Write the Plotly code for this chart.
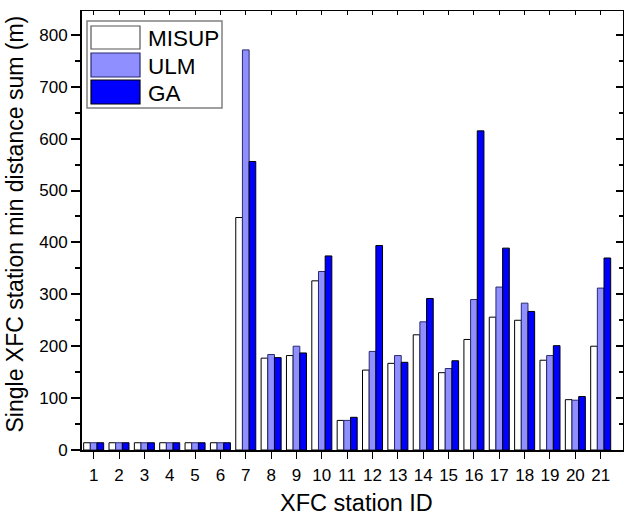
import plotly.graph_objects as go

stations = list(range(1, 22))
tick_labels = [str(s) for s in stations]
series_names = ["MISUP", "ULM", "GA"]
misup = [14, 14, 14, 14, 14, 14, 448, 177, 182, 326, 57, 154, 167, 222, 149, 213, 256, 250, 173, 97, 200]
ulm = [14, 14, 14, 14, 14, 14, 771, 184, 200, 344, 57, 190, 182, 247, 157, 290, 314, 283, 182, 96, 312]
ga = [14, 14, 14, 14, 14, 14, 556, 178, 187, 374, 63, 394, 169, 292, 172, 615, 389, 267, 201, 103, 370]
y_ticks = list(range(0, 801, 100))

FONT = "Liberation Sans, Arial, sans-serif"
fills = ["#FFFFFF", "#8F8FFF", "#0000FF"]
edges = ["#000000", "#2a2a70", "#000000"]

# plot area in pixels
L, R, T, B = 82, 623, 11, 450
W, H = 624, 516
PW, PH = R - L, B - T


def px(x):
    return (x - L) / PW


def py(y):
    return (B - y) / PH


fig = go.Figure()
for name, vals, fc, ec in zip(series_names, [misup, ulm, ga], fills, edges):
    fig.add_trace(go.Bar(x=stations, y=vals, name=name, marker=dict(color=fc, line=dict(color=ec, width=1)),
                         showlegend=False))

# invisible trace to register mirrored axes
fig.add_trace(go.Scatter(x=[1], y=[0], xaxis="x2", yaxis="y2", mode="markers",
                         marker=dict(opacity=0), showlegend=False, hoverinfo="skip"))

xr = [0.54, 21.88]
yr = [0, 846]

fig.update_layout(
    width=W, height=H,
    margin=dict(l=L, r=W - R, t=T, b=H - B),
    paper_bgcolor="white", plot_bgcolor="white",
    barmode="group", bargap=0.21, bargroupgap=0,
    font=dict(family=FONT, color="black", size=17),
    xaxis=dict(range=xr, tickvals=stations, ticktext=tick_labels, ticks="outside", ticklen=7, tickwidth=1.2,
               tickcolor="black", showline=True, linewidth=2, linecolor="black", showgrid=False, zeroline=False,
               tickfont=dict(size=17, family=FONT, color="black"), ticklabelstandoff=2),
    xaxis2=dict(range=xr, overlaying="x", side="top", anchor="y", tickvals=stations, ticks="inside", ticklen=4,
                tickwidth=1, tickcolor="black", showticklabels=False, showline=True, linewidth=1.2,
                linecolor="black", showgrid=False, zeroline=False),
    yaxis=dict(range=yr, tickvals=y_ticks, ticks="outside", ticklen=9, tickwidth=1.6, tickcolor="black",
               showline=True, linewidth=2, linecolor="black", showgrid=False, zeroline=False,
               tickfont=dict(size=17, family=FONT, color="black"),
               minor=dict(ticks="outside", ticklen=5, tickwidth=1.6, tickcolor="black", dtick=50, tick0=0,
                          showgrid=False)),
    yaxis2=dict(range=yr, overlaying="y", side="right", anchor="x", tickvals=y_ticks, ticks="inside", ticklen=7,
                tickwidth=1.6, tickcolor="black", showticklabels=False, showline=True, linewidth=1.2,
                linecolor="black", showgrid=False, zeroline=False,
                minor=dict(ticks="inside", ticklen=4, tickwidth=1.6, tickcolor="black", dtick=50, tick0=0,
                           showgrid=False)),
)

# axis titles
fig.add_annotation(text="XFC station ID", xref="paper", yref="paper", x=px(356), y=py(503.5),
                   xanchor="center", yanchor="middle", showarrow=False,
                   font=dict(size=23.5, family=FONT, color="black"))
fig.add_annotation(text="Single XFC station min distance sum (m)", xref="paper", yref="paper", x=px(14),
                   y=py(224.5), xanchor="center", yanchor="middle", textangle=-90, showarrow=False,
                   font=dict(size=23, family=FONT, color="black"))

# legend drawn manually
fig.add_shape(type="rect", xref="paper", yref="paper", x0=px(87), x1=px(222), y0=py(21), y1=py(108),
              line=dict(color="#808080", width=1.5), fillcolor="white", layer="above")
rows = [(26, 49), (53, 77), (80, 104)]
for (y0, y1), name, fc, ec in zip(rows, series_names, fills, edges):
    fig.add_shape(type="rect", xref="paper", yref="paper", x0=px(91), x1=px(140), y0=py(y0), y1=py(y1),
                  line=dict(color=ec if name != "MISUP" else "#555555", width=1.2), fillcolor=fc, layer="above")
    fig.add_annotation(text=name, xref="paper", yref="paper", x=px(146), y=py((y0 + y1) / 2 + 1),
                       xanchor="left", yanchor="middle", showarrow=False,
                       font=dict(size=22.5, family=FONT, color="black"))

fig.write_html("out.html")
